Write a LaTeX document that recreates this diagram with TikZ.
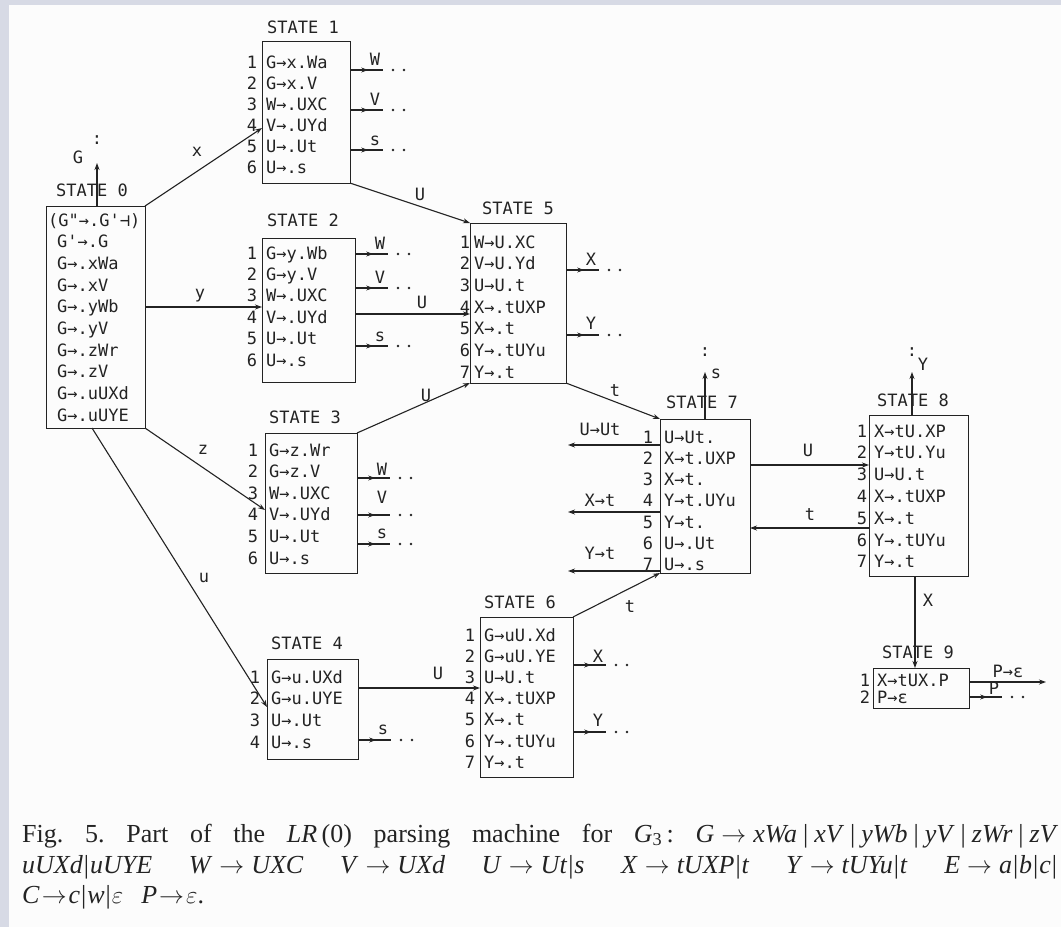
\documentclass[tikz,border=0pt]{standalone}
\usepackage{fontspec}
\setmainfont{Liberation Serif}
\newfontfamily\dfont{DejaVu Sans Mono}
\usetikzlibrary{arrows.meta,decorations.markings}
\definecolor{band}{RGB}{215,218,229}
\definecolor{ink}{RGB}{35,35,35}
\definecolor{paper}{RGB}{252,252,252}
\frenchspacing
\tikzset{
 ln/.style={line width=1.1pt, draw=ink},
 box/.style={ln, rectangle, inner sep=0pt, anchor=north west},
 itm/.style={font=\dfont\fontsize{17}{17}\selectfont, text=ink, inner sep=0pt, text height=12pt, text depth=0pt, anchor=west},
 num/.style={itm, anchor=center},
 lab/.style={itm, anchor=center},
 tipto/.style={-{Stealth[length=7pt,width=5pt]}},
 midarrow/.style={postaction={decorate}, decoration={markings, mark=at position 0.55 with {\arrow{Stealth[length=7pt,width=5pt]}}}},
 captxt/.style={font=\fontsize{26}{26}\selectfont, text=ink, inner sep=0pt, anchor=west, text height=17pt, text depth=5pt},
}
\newcommand\stateitems[6]{%
  \foreach \t [count=\i] in {#6} {%
    \node[itm] (#1t\i) at (#2, {#4+(\i-1)*#5}) {\t};
    \node[num] (#1n\i) at (#3, {#4+(\i-1)*#5}) {\i};
  }}
\newcommand\stub[5]{%
  \coordinate (#1a) at (#2,#3);
  \coordinate (#1b) at (#2+33,#3);
  \draw[ln, midarrow] (#1a) -- (#1b);
  \node[lab] (#1l) at (#2+25,#3-#5) {#4};
  \fill[ink] (#2+43,#3) circle (1.4pt) (#2+54,#3) circle (1.4pt);
}
\newcommand\rA{\hspace{7pt}\ensuremath{\rightarrow}\hspace{7pt}}
\newcommand\rB{\hspace{2pt}\ensuremath{\rightarrow}\hspace{2pt}}
\newcommand\vB{\hspace{6pt}\textup{|}\hspace{6pt}}
\newcommand\vC{\hspace{1pt}\textup{|}\hspace{1pt}}
\begin{document}
\begin{tikzpicture}[x=1pt,y=-1pt]
\useasboundingbox (0,0) rectangle (1061,927);
\fill[band] (0,0) rectangle (1061,927);
\fill[paper] (9,5) rectangle (1061,927);

% ---- boxes
\node[box, minimum width=99pt, minimum height=222pt] (s0) at (46,206) {};
\node[box, minimum width=88pt, minimum height=142pt] (s1) at (262,41) {};
\node[box, minimum width=93pt, minimum height=144pt] (s2) at (262,238) {};
\node[box, minimum width=92pt, minimum height=140pt] (s3) at (265,433) {};
\node[box, minimum width=91pt, minimum height=100pt] (s4) at (267,659) {};
\node[box, minimum width=96pt, minimum height=160pt] (s5) at (470,223) {};
\node[box, minimum width=93pt, minimum height=160pt] (s6) at (480,617) {};
\node[box, minimum width=90pt, minimum height=154pt] (s7) at (660,419) {};
\node[box, minimum width=99pt, minimum height=161pt] (s8) at (869,415) {};
\node[box, minimum width=96pt, minimum height=40pt] (s9) at (873,668) {};

% ---- state titles
\node[lab] (h0) at (92,190) {STATE 0};
\node[lab] (h1) at (303,27) {STATE 1};
\node[lab] (h2) at (303,220) {STATE 2};
\node[lab] (h3) at (305,417) {STATE 3};
\node[lab] (h4) at (307,643) {STATE 4};
\node[lab] (h5) at (518,208) {STATE 5};
\node[lab] (h6) at (520,602) {STATE 6};
\node[lab] (h7) at (702,402) {STATE 7};
\node[lab] (h8) at (913,400) {STATE 8};
\node[lab] (h9) at (918,652) {STATE 9};

% ---- items
\node[itm] (s0t1) at (48,220) {(G"→.G'⊣)};
\foreach \t [count=\i from 2] in {G'→.G, G→.xWa, G→.xV, G→.yWb, G→.yV, G→.zWr, G→.zV, G→.uUXd, G→.uUYE}
  \node[itm] (s0t\i) at (57, {220+(\i-1)*21.7}) {\t};
\stateitems{s1}{266}{252}{62}{21}{G→x.Wa, G→x.V, W→.UXC, V→.UYd, U→.Ut, U→.s}
\stateitems{s2}{266}{252}{253}{21.4}{G→y.Wb, G→y.V, W→.UXC, V→.UYd, U→.Ut, U→.s}
\stateitems{s3}{269}{253}{450}{21.6}{G→z.Wr, G→z.V, W→.UXC, V→.UYd, U→.Ut, U→.s}
\stateitems{s4}{271}{255}{677}{21.7}{G→u.UXd, G→u.UYE, U→.Ut, U→.s}
\stateitems{s5}{474}{465}{242}{21.7}{W→U.XC, V→U.Yd, U→U.t, X→.tUXP, X→.t, Y→.tUYu, Y→.t}
\stateitems{s6}{484}{470}{635}{21.2}{G→uU.Xd, G→uU.YE, U→U.t, X→.tUXP, X→.t, Y→.tUYu, Y→.t}
\stateitems{s7}{664}{648}{437}{21.3}{U→Ut., X→t.UXP, X→t., Y→t.UYu, Y→t., U→.Ut, U→.s}
\stateitems{s8}{874}{862}{431}{21.8}{X→tU.XP, Y→tU.Yu, U→U.t, X→.tUXP, X→.t, Y→.tUYu, Y→.t}
\stateitems{s9}{877}{865}{680}{17}{X→tUX.P, P→ε}

% ---- transitions between states
\coordinate (s0x) at (145,206);
\coordinate (s1x) at (262,128);
\draw[ln, tipto] (s0x) -- (s1x);
\node[lab] (lx) at (197,150) {x};
\coordinate (s0y) at (145,307);
\coordinate (s2y) at (262,307);
\draw[ln, tipto] (s0y) -- (s2y);
\node[lab] (ly) at (200,292) {y};
\coordinate (s0z) at (145,428);
\coordinate (s3z) at (265,510);
\draw[ln, tipto] (s0z) -- (s3z);
\node[lab] (lz) at (203,448) {z};
\coordinate (s0u) at (92,428);
\coordinate (s4u) at (267,707);
\draw[ln, tipto] (s0u) -- (s4u);
\node[lab] (lu) at (204,576) {u};

\coordinate (s1U) at (350,183);
\coordinate (s5a) at (470,223);
\draw[ln, tipto] (s1U) -- (s5a);
\node[lab] (l1U) at (420,194) {U};
\coordinate (s2U) at (355,314);
\coordinate (s5b) at (470,314);
\draw[ln, tipto] (s2U) -- (s5b);
\node[lab] (l2U) at (422,302) {U};
\coordinate (s3U) at (357,433);
\coordinate (s5c) at (470,383);
\draw[ln, tipto] (s3U) -- (s5c);
\node[lab] (l3U) at (426,395) {U};
\coordinate (s4U) at (358,688);
\coordinate (s6U) at (480,688);
\draw[ln, tipto] (s4U) -- (s6U);
\node[lab] (l4U) at (438,673) {U};

\coordinate (s5t) at (566,383);
\coordinate (s7a) at (660,419);
\draw[ln, tipto] (s5t) -- (s7a);
\node[lab] (l5t) at (615,390) {t};
\coordinate (s6t) at (573,617);
\coordinate (s7b) at (660,573);
\draw[ln, tipto] (s6t) -- (s7b);
\node[lab] (l6t) at (630,606) {t};

\coordinate (s7U) at (750,465);
\coordinate (s8U) at (869,465);
\draw[ln, tipto] (s7U) -- (s8U);
\node[lab] (l7U) at (808,450) {U};
\coordinate (s8t) at (869,528);
\coordinate (s7t) at (750,528);
\draw[ln, tipto] (s8t) -- (s7t);
\node[lab] (l8t) at (810,514) {t};
\coordinate (s8X) at (915,576);
\coordinate (s9X) at (915,668);
\draw[ln, tipto] (s8X) -- (s9X);
\node[lab] (l8X) at (928,600) {X};

% ---- upward exits
\coordinate (g0) at (97,206);
\coordinate (g1) at (97,163);
\draw[ln, tipto] (g0) -- (g1);
\node[lab] (gc) at (97,138) {:};
\node[lab] (gl) at (78,157) {G};
\coordinate (e7a) at (705,419);
\coordinate (e7b) at (705,372);
\draw[ln, tipto] (e7a) -- (e7b);
\node[lab] (e7c) at (705,350) {:};
\node[lab] (e7l) at (716,372) {s};
\coordinate (e8a) at (912,415);
\coordinate (e8b) at (912,372);
\draw[ln, tipto] (e8a) -- (e8b);
\node[lab] (e8c) at (912,350) {:};
\node[lab] (e8l) at (923,364) {Y};

% ---- reduce exits to the left of STATE 7
\coordinate (r1a) at (660,445);
\coordinate (r1b) at (568,445);
\draw[ln, tipto] (r1a) -- (r1b);
\node[lab] (r1l) at (600,429) {U→Ut};
\coordinate (r2a) at (660,512);
\coordinate (r2b) at (568,512);
\draw[ln, tipto] (r2a) -- (r2b);
\node[lab] (r2l) at (600,500) {X→t};
\coordinate (r3a) at (660,571);
\coordinate (r3b) at (568,571);
\draw[ln, tipto] (r3a) -- (r3b);
\node[lab] (r3l) at (600,553) {Y→t};

% ---- short exits
\stub{a1}{350}{70}{W}{11}
\stub{a2}{350}{110}{V}{11}
\stub{a3}{350}{150}{s}{11}
\stub{b1}{355}{254}{W}{11}
\stub{b2}{355}{288}{V}{11}
\stub{b3}{355}{346}{s}{11}
\stub{c1}{357}{478}{W}{9}
\stub{c2}{357}{515}{V}{18}
\stub{c3}{357}{544}{s}{12}
\stub{d1}{358}{740}{s}{12}
\stub{e1}{566}{270}{X}{11}
\stub{e2}{566}{335}{Y}{12}
\stub{f1}{573}{665}{X}{9}
\stub{f2}{573}{732}{Y}{12}
\stub{g9}{969}{697}{P}{9}
\coordinate (p1a) at (969,682);
\coordinate (p1b) at (1046,682);
\draw[ln, tipto] (p1a) -- (p1b);
\node[lab] (p1l) at (1008,671) {P→ε};

% ---- caption
\node[captxt] (cap1) at (22,836) {\makebox[1036pt][s]{Fig. 5. Part of the \textit{LR}\,(0) parsing machine for \textit{G}\textsubscript{3}\,: \textit{G}\rA\textit{xWa}\vB\textit{xV}\vB\textit{yWb}\vB\textit{yV}\vB\textit{zWr}\vB\textit{zV}}};
\node[captxt] (cap2) at (22,867) {\makebox[1036pt][s]{\textit{uUXd}\vC\textit{uUYE}\hfill\textit{W}\rA\textit{UXC}\hfill\textit{V}\rA\textit{UXd}\hfill\textit{U}\rA\textit{Ut}\vC\textit{s}\hfill\textit{X}\rA\textit{tUXP}\vC\textit{t}\hfill\textit{Y}\rA\textit{tUYu}\vC\textit{t}\hfill\textit{E}\rA\textit{a}\vC\textit{b}\vC\textit{c}\vC}};
\node[captxt] (cap3) at (22,897) {\textit{C}\rB\textit{c}\vC\textit{w}\vC$\varepsilon$\hspace{18pt}\textit{P}\rB$\varepsilon$.};
\end{tikzpicture}
\end{document}
